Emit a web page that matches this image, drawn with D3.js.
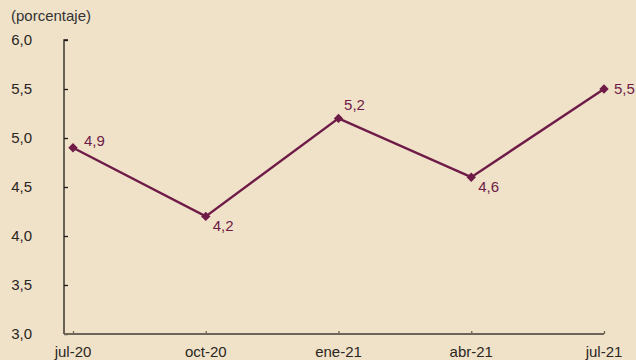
<!DOCTYPE html>
<html>
<head>
<meta charset="utf-8">
<script src="https://cdn.jsdelivr.net/npm/d3@7"></script>
<style>
  html, body { margin: 0; padding: 0; background: #f0e2c9; }
  svg { display: block; }
  text { font-family: "Liberation Sans", Arial, sans-serif; }
</style>
</head>
<body>
<svg id="chart" width="636" height="360"></svg>
<script>
// Quarterly figures (percent)
const categories = ["jul-20", "oct-20", "ene-21", "abr-21", "jul-21"];
const values = [4.9, 4.2, 5.2, 4.6, 5.5];
const yTicks = [3.0, 3.5, 4.0, 4.5, 5.0, 5.5, 6.0];
const unitLabel = "(porcentaje)";

// Where each value label sits relative to its marker
const labelPlacement = ["upRight", "downRight", "up", "downRight", "right"];

const W = 636, H = 360;
const margin = { left: 64, right: 32, top: 40, bottom: 26 };
const fmt = v => d3.format(".1f")(v).replace(".", ",");
const maroon = "#6e1b47";
const fontSize = 15;

const svg = d3.select("#chart");

const x = d3.scalePoint()
  .domain(categories)
  .range([73, W - margin.right]);

const y = d3.scaleLinear()
  .domain([3, 6])
  .range([H - margin.bottom, margin.top]);

// Unit caption
svg.append("text")
  .attr("x", 11).attr("y", 21)
  .attr("font-size", fontSize).attr("fill", "#333")
  .text(unitLabel);

// Y axis: ticks pointing inward
const yAxis = svg.append("g")
  .attr("transform", `translate(${margin.left},0)`)
  .call(d3.axisRight(y).tickValues(yTicks).tickSize(4).tickFormat(""));
yAxis.select(".domain").attr("stroke", "#1e1a16").attr("stroke-width", 1.3)
  .attr("d", `M4,${y(6)}H0V${y(3)}`);
yAxis.selectAll(".tick line").attr("stroke", "#1e1a16").attr("stroke-width", 1.3);

svg.append("g").selectAll("text")
  .data(yTicks)
  .join("text")
  .attr("x", 32).attr("y", d => y(d) + 5)
  .attr("text-anchor", "end")
  .attr("font-size", fontSize).attr("fill", "#2a2622")
  .text(fmt);

// X axis: ticks pointing up
const xAxis = svg.append("g")
  .attr("transform", `translate(0,${y(3)})`)
  .call(d3.axisTop(x).tickSize(3).tickFormat(""));
xAxis.select(".domain").attr("stroke", "#6e6558").attr("stroke-width", 1.8)
  .attr("d", `M${margin.left},0H${x(categories[categories.length - 1])}`);
xAxis.selectAll(".tick line").attr("stroke", "#6e6558").attr("stroke-width", 1.3);

svg.append("g").selectAll("text")
  .data(categories)
  .join("text")
  .attr("x", d => x(d)).attr("y", H - 3)
  .attr("text-anchor", "middle")
  .attr("font-size", fontSize).attr("fill", "#2a2622")
  .text(d => d);

// Series line
const points = categories.map((c, i) => ({ c, v: values[i], p: labelPlacement[i] }));

svg.append("path")
  .datum(points)
  .attr("fill", "none")
  .attr("stroke", maroon)
  .attr("stroke-width", 2.4)
  .attr("stroke-linejoin", "miter")
  .attr("d", d3.line().x(d => x(d.c)).y(d => y(d.v)));

// Diamond markers: squares turned 45 degrees
svg.append("g").selectAll("path")
  .data(points)
  .join("path")
  .attr("transform", d => `translate(${x(d.c)},${y(d.v)}) rotate(45)`)
  .attr("fill", maroon)
  .attr("d", d3.symbol().type(d3.symbolSquare).size(44));

// Value labels
const offsets = {
  upRight: [11, -2, "start"],
  downRight: [7, 15, "start"],
  up: [16, -8, "middle"],
  right: [10, 5, "start"]
};
svg.append("g").selectAll("text")
  .data(points)
  .join("text")
  .attr("x", d => x(d.c) + offsets[d.p][0])
  .attr("y", d => y(d.v) + offsets[d.p][1])
  .attr("text-anchor", d => offsets[d.p][2])
  .attr("font-size", fontSize).attr("fill", maroon)
  .text(d => fmt(d.v));
</script>
</body>
</html>
